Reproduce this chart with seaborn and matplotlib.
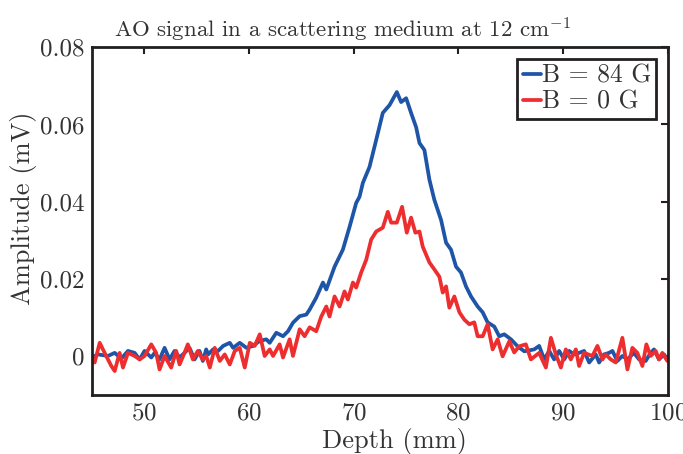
import matplotlib
matplotlib.use('Agg')
import matplotlib.pyplot as plt
import pandas as pd
import seaborn as sns

# Depth (mm) and amplitude (mV), B = 84 G
depth_84 = [45.0, 45.62, 46.57, 47.21, 47.84, 48.48, 49.11, 49.59, 50.06, 50.70,
            51.02, 51.49, 51.97, 52.44, 52.92, 53.40, 53.87, 54.35, 54.83, 55.30,
            55.62, 55.94, 56.13, 56.60, 57.08, 57.56, 58.19, 58.51, 59.14, 59.78,
            60.41, 61.05, 61.68, 62.00, 62.63, 63.27, 63.75, 64.22, 64.86, 65.49,
            65.81, 66.44, 67.08, 67.40, 68.19, 68.98, 69.62, 70.25, 70.57, 70.89,
            71.52, 72.16, 72.79, 73.43, 74.13, 74.54, 75.02, 75.49, 75.97, 76.29,
            76.76, 77.24, 77.71, 78.35, 78.83, 79.30, 79.78, 80.25, 80.73, 81.21,
            81.84, 82.32, 82.79, 83.43, 83.90, 84.38, 85.02, 85.65, 86.29, 87.24,
            87.71, 88.19, 88.67, 89.14, 89.62, 90.10, 90.57, 91.05, 91.52, 92.00,
            92.48, 93.11, 93.43, 93.90, 94.38, 94.70, 95.17, 95.65, 96.13, 96.76,
            97.24, 97.87, 98.35, 98.67, 99.14, 99.62, 99.94]
amp_84 = [-0.0003, 0.0005, 0.0001, 0.0009, -0.0006, 0.0014, 0.0009, -0.0008, 0.0014, -0.0003,
          0.0009, -0.0008, 0.0022, -0.0008, 0.0014, -0.0003, 0.0009, 0.0022, -0.0008, 0.0014,
          -0.0012, 0.0018, 0.0005, 0.0018, 0.0014, 0.0027, 0.0035, 0.0022, 0.0035, 0.0022,
          0.0027, 0.0040, 0.0044, 0.0035, 0.0061, 0.0052, 0.0065, 0.0087, 0.0104, 0.0108,
          0.0121, 0.0152, 0.0191, 0.0173, 0.0232, 0.0276, 0.0335, 0.0397, 0.0413, 0.0449,
          0.0490, 0.0560, 0.0630, 0.0650, 0.0684, 0.0658, 0.0668, 0.0630, 0.0593, 0.0552,
          0.0534, 0.0457, 0.0405, 0.0353, 0.0294, 0.0276, 0.0232, 0.0217, 0.0181, 0.0155,
          0.0129, 0.0114, 0.0088, 0.0077, 0.0052, 0.0057, 0.0044, 0.0026, 0.0013, 0.0018,
          0.0027, -0.0008, 0.0014, -0.0008, 0.0014, -0.0008, 0.0014, 0.0005, 0.0009, 0.0014,
          -0.0016, 0.0005, -0.0016, 0.0005, 0.0009, 0.0014, -0.0012, 0.0001, -0.0008, 0.0009,
          -0.0008, -0.0012, 0.0009, 0.0018, -0.0008, 0.0005, -0.0008]

# B = 0 G
depth_0 = [45.0, 45.30, 45.78, 46.25, 46.89, 47.21, 47.68, 48.00, 48.48, 49.11,
           49.59, 50.06, 50.70, 51.17, 51.49, 51.97, 52.60, 53.08, 53.40, 53.87,
           54.19, 54.67, 55.14, 55.62, 55.94, 56.29, 56.76, 57.24, 57.71, 58.19,
           58.67, 59.14, 59.62, 60.10, 60.57, 61.05, 61.52, 62.00, 62.32, 62.95,
           63.27, 63.90, 64.22, 64.86, 65.33, 65.81, 66.44, 66.92, 67.40, 67.71,
           68.19, 68.67, 69.14, 69.46, 69.94, 70.25, 70.73, 71.21, 71.68, 72.16,
           72.79, 73.27, 73.59, 74.13, 74.63, 75.08, 75.49, 75.90, 76.29, 76.60,
           77.24, 77.71, 78.19, 78.51, 78.83, 79.14, 79.62, 80.10, 80.57, 81.05,
           81.52, 81.84, 82.32, 82.79, 83.27, 83.75, 84.22, 84.86, 85.33, 85.81,
           86.44, 86.92, 87.71, 88.35, 88.83, 89.30, 89.78, 90.25, 90.73, 91.21,
           91.52, 92.00, 92.79, 93.27, 93.75, 94.06, 94.54, 95.02, 95.65, 96.13,
           96.60, 97.08, 97.56, 97.94, 98.35, 98.83, 99.14, 99.46, 99.94]
amp_0 = [-0.0008, -0.0016, 0.0035, 0.0009, -0.0025, -0.0038, 0.0009, -0.0029, 0.0009, 0.0001,
         -0.0008, 0.0001, 0.0031, 0.0009, -0.0034, 0.0001, -0.0029, 0.0014, -0.0021, 0.0009,
         0.0031, -0.0008, 0.0014, -0.0008, 0.0001, -0.0029, 0.0022, -0.0012, 0.0005, -0.0021,
         0.0014, 0.0022, -0.0029, 0.0035, 0.0027, 0.0057, 0.0001, 0.0018, 0.0001, 0.0031,
         -0.0003, 0.0044, 0.0001, 0.0070, 0.0052, 0.0075, 0.0065, 0.0103, 0.0129, 0.0103,
         0.0155, 0.0129, 0.0168, 0.0147, 0.0191, 0.0178, 0.0217, 0.0250, 0.0302, 0.0323,
         0.0333, 0.0374, 0.0346, 0.0346, 0.0387, 0.0320, 0.0359, 0.0320, 0.0323, 0.0284,
         0.0243, 0.0225, 0.0206, 0.0165, 0.0181, 0.0126, 0.0155, 0.0114, 0.0095, 0.0083,
         0.0088, 0.0052, 0.0052, 0.0083, 0.0018, 0.0044, 0.0000, 0.0039, 0.0010, 0.0026,
         0.0031, -0.0008, 0.0009, -0.0029, 0.0048, 0.0005, -0.0029, 0.0018, -0.0008, 0.0018,
         -0.0025, 0.0009, 0.0001, 0.0027, -0.0008, 0.0005, -0.0008, -0.0016, 0.0048, -0.0034,
         0.0022, 0.0009, -0.0025, 0.0031, 0.0001, 0.0014, -0.0008, 0.0009, -0.0012]

labels = ['B = 84 G', 'B = 0 G']
colors = ['#1f55a6', '#ee2d2f']

df = pd.concat([
    pd.DataFrame({'depth': depth_84, 'amp': amp_84, 'field': labels[0]}),
    pd.DataFrame({'depth': depth_0, 'amp': amp_0, 'field': labels[1]}),
])

sns.set_style('white')
plt.rcParams['font.family'] = ['cmr10', 'DejaVu Serif']
plt.rcParams['mathtext.fontset'] = 'cm'
plt.rcParams['axes.formatter.use_mathtext'] = True
plt.rcParams['axes.unicode_minus'] = False

fig, ax = plt.subplots(figsize=(6.83, 4.54), dpi=100)
fig.subplots_adjust(left=0.134, right=0.978, bottom=0.130, top=0.896)

sns.lineplot(data=df, x='depth', y='amp', hue='field', hue_order=labels,
             palette=colors, estimator=None, sort=True, linewidth=2.7, ax=ax)

ax.set_xlim(45, 100)
ax.set_ylim(-0.01, 0.08)
ax.set_xticks([50, 60, 70, 80, 90, 100])
ax.set_yticks([0, 0.02, 0.04, 0.06, 0.08])
ax.set_yticklabels(['0', '0.02', '0.04', '0.06', '0.08'])
ax.tick_params(direction='in', length=5, width=1.5, top=True, right=True,
               labelsize=18, pad=5, colors='#231f20', labelcolor='#333333')
for s in ax.spines.values():
    s.set_linewidth(2)
    s.set_color('#231f20')

ax.set_title('AO signal in a scattering medium at 12 cm$^{\\mathrm{-1}}$',
             fontsize=16.5, color='#333333', pad=7, x=0.435)
ax.set_xlabel('Depth (mm)', fontsize=19, color='#333333')
ax.set_ylabel('Amplitude (mV)', fontsize=19, color='#333333')
ax.xaxis.set_label_coords(0.526, -0.095)
ax.yaxis.set_label_coords(-0.094, 0.537)

h, l = ax.get_legend_handles_labels()
leg = ax.legend(h, l, loc='upper right', fontsize=18.5, handlelength=0.7,
                handletextpad=0.05, labelspacing=0.1, borderpad=0.2,
                borderaxespad=0.45, fancybox=False, framealpha=1)
leg.get_frame().set_edgecolor('#231f20')
leg.get_frame().set_linewidth(2)
for t in leg.get_texts():
    t.set_color('#333333')

fig.savefig('out.png', dpi=100)
